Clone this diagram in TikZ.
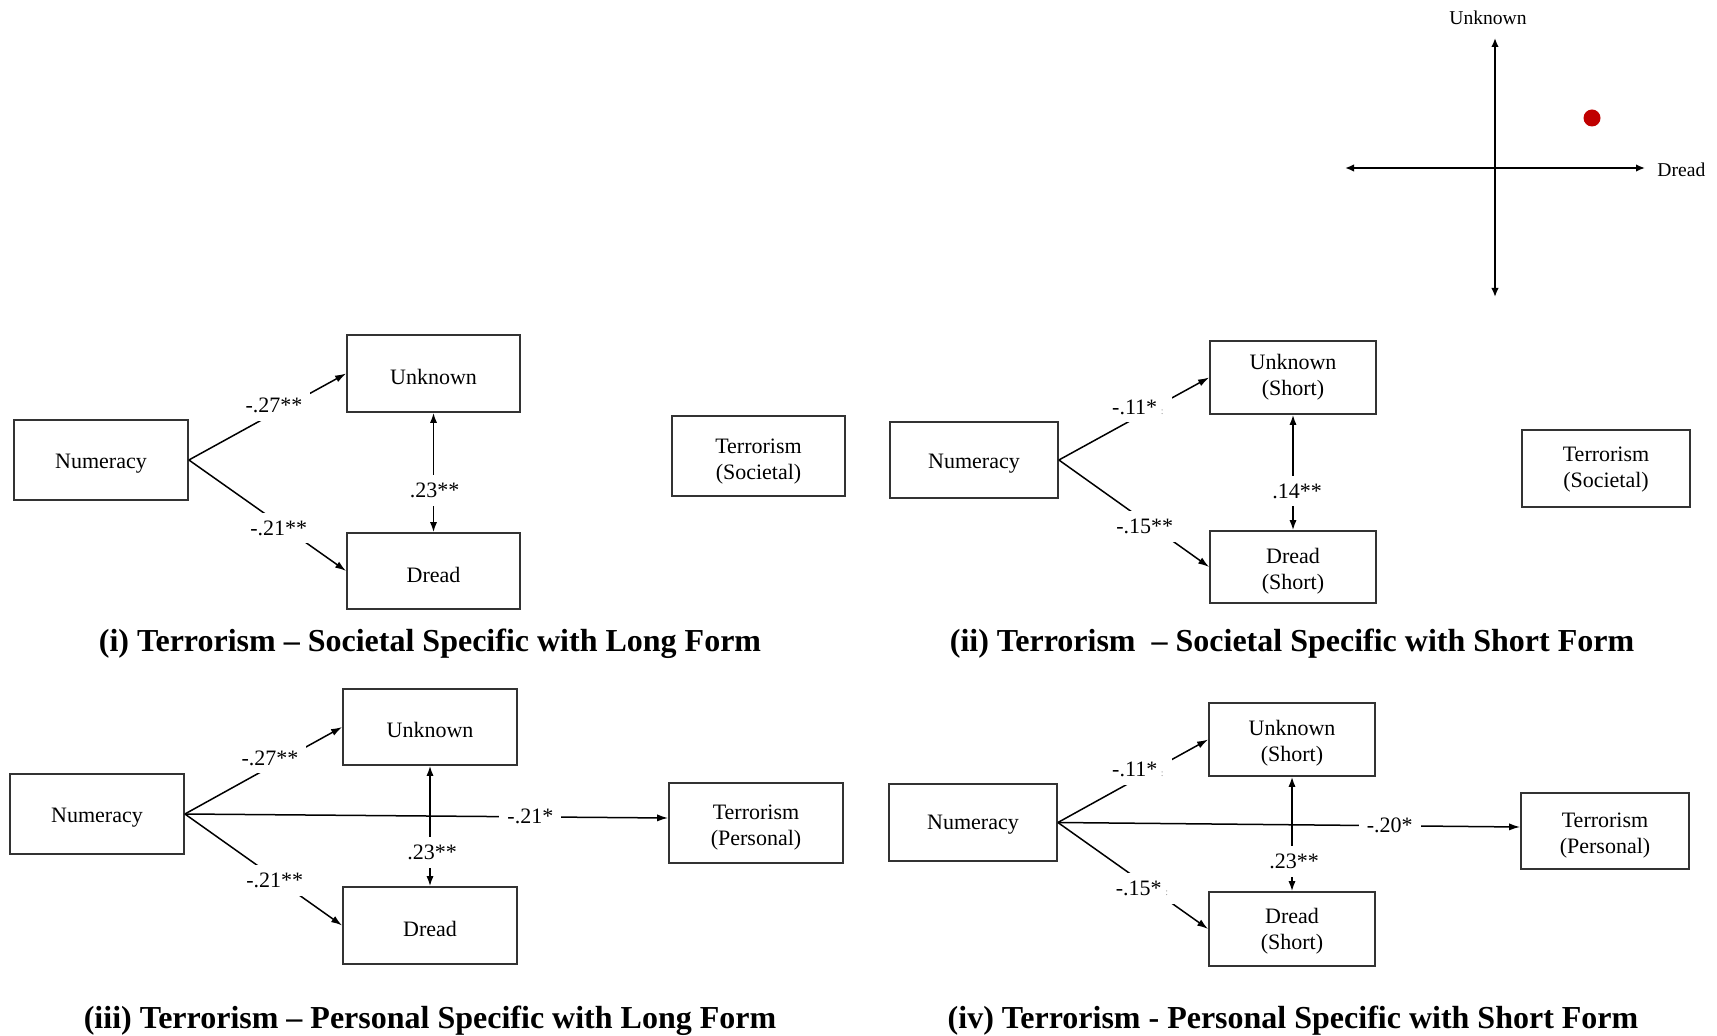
\documentclass[tikz,border=0pt]{standalone}
\usepackage{fontspec}
\setmainfont{Liberation Serif}
\usetikzlibrary{arrows.meta}
\definecolor{dotred}{HTML}{C00000}
\newcommand\artmark{\,{\fontsize{5}{5}\selectfont\color{black!40}:}}
\begin{document}
\begin{tikzpicture}[x=0.5pt,y=-0.5pt,
  bx/.style 2 args={draw=black!80, line width=0.9pt, minimum width=#1*0.5pt, minimum height=#2*0.5pt, inner sep=0pt, align=center, font=\fontsize{11}{13}\selectfont},
  tl/.style={text height=#1, text depth=0pt},
  lbl/.style={fill=white, inner sep=4pt, font=\fontsize{11}{13}\selectfont},
  arr/.style={line width=0.75pt, -{Latex[length=5.5pt,width=3.6pt]}},
  darr/.style={line width=0.75pt, {Latex[length=5pt,width=3.6pt]}-{Latex[length=5pt,width=3.6pt]}},
  ttl/.style={font=\fontsize{16}{18}\selectfont\bfseries, inner sep=0pt},
  axl/.style={font=\fontsize{9.8}{11}\selectfont, inner sep=0pt},
  axis/.style={line width=1pt, {Latex[length=4.5pt,width=3.8pt]}-{Latex[length=4.5pt,width=3.8pt]}}
]
\useasboundingbox (0,0) rectangle (1717,1036);

% ---------- quadrant axes ----------
\coordinate (axT) at (1495,38);
\coordinate (axB) at (1495,297);
\coordinate (axL) at (1345,168);
\coordinate (axR) at (1645,168);
\draw[axis] (axB) -- (axT);
\draw[axis] (axL) -- (axR);
\node[axl] (axU) at (1488,18) {Unknown};
\node[axl, anchor=west] (axD) at (1657,170) {Dread};
\node[circle, fill=dotred, inner sep=0pt, minimum size=8.5pt] (dot) at (1592,118) {};

% ---------- panel (i) ----------
\node[bx={174}{80},tl=8.2pt] (N1) at (101,460) {Numeracy};
\node[bx={173}{77},tl=10.8pt] (U1) at (433.5,373.5) {Unknown};
\node[bx={173}{76},tl=11.9pt] (D1) at (433.5,571) {Dread};
\node[bx={173}{80},tl=23.9pt] (T1) at (758.5,456) {Terrorism\\(Societal)};
\draw[arr] (N1.east) -- node[lbl,pos=.541,yshift=4pt]{-.27**} (U1.west);
\draw[arr] (N1.east) -- node[lbl,pos=.572,yshift=-2.25pt]{-.21**} (D1.west);
\draw[darr] (U1.south) -- node[lbl,pos=.653,xshift=0.5pt]{.23**} (D1.north);
\node[ttl] (TT1) at (430,643.3) {(i) Terrorism – Societal Specific with Long Form};

% ---------- panel (ii) ----------
\node[bx={168}{76},tl=8.2pt] (N2) at (974,460) {Numeracy};
\node[bx={166}{73},tl=18.5pt] (U2) at (1293,377.5) {Unknown\\(Short)};
\node[bx={166}{72},tl=22.3pt] (D2) at (1293,567) {Dread\\(Short)};
\node[bx={168}{77},tl=19.1pt] (T2) at (1606,468.5) {Terrorism\\(Societal)};
\draw[arr] (N2.east) -- node[lbl,pos=.526,yshift=4.8pt]{-.11*\artmark} (U2.west);
\draw[arr] (N2.east) -- node[lbl,pos=.572,yshift=-2.5pt]{-.15**} (D2.west);
\draw[darr] (U2.south) -- node[lbl,pos=.66,xshift=2pt]{.14**} (D2.north);
\node[ttl] (TT2) at (1292,643.3) {(ii) Terrorism~~– Societal Specific with Short Form};

% ---------- panel (iii) ----------
\node[bx={174}{80},tl=8.2pt] (N3) at (97,814) {Numeracy};
\node[bx={174}{76},tl=10.8pt] (U3) at (430,727) {Unknown};
\node[bx={174}{77},tl=10.8pt] (D3) at (430,925.5) {Dread};
\node[bx={174}{80},tl=22.9pt] (T3) at (756,823) {Terrorism\\(Personal)};
\draw[arr] (N3.east) -- node[lbl,pos=.541,yshift=4.5pt]{-.27**} (U3.west);
\draw[arr] (N3.east) -- node[lbl,pos=.572,yshift=-1.5pt]{-.21**} (D3.west);
\draw[darr] (U3.south) -- node[lbl,pos=.72,xshift=1pt]{.23**} (D3.north);
\draw[arr] (N3.east) -- node[lbl,pos=.715]{-.21*} ([yshift=2.5pt]T3.west);
\node[ttl] (TT3) at (430,1020.5) {(iii) Terrorism – Personal Specific with Long Form};

% ---------- panel (iv) ----------
\node[bx={168}{77},tl=7.1pt] (N4) at (973,822.5) {Numeracy};
\node[bx={166}{73},tl=22.3pt] (U4) at (1292,739.5) {Unknown\\(Short)};
\node[bx={166}{74},tl=20.1pt] (D4) at (1292,929) {Dread\\(Short)};
\node[bx={168}{76},tl=22.3pt] (T4) at (1605,831) {Terrorism\\(Personal)};
\draw[arr] (N4.east) -- node[lbl,pos=.533,yshift=4.5pt]{-.11*\artmark} (U4.west);
\draw[arr] (N4.east) -- node[lbl,pos=.56,yshift=-3pt]{-.15*\artmark} (D4.west);
\draw[darr] (U4.south) -- node[lbl,pos=.74,xshift=1pt]{.23**} (D4.north);
\draw[arr] (N4.east) -- node[lbl,pos=.718]{-.20*} ([yshift=2pt]T4.west);
\node[ttl] (TT4) at (1293,1020.5) {(iv) Terrorism - Personal Specific with Short Form};
\end{tikzpicture}
\end{document}
